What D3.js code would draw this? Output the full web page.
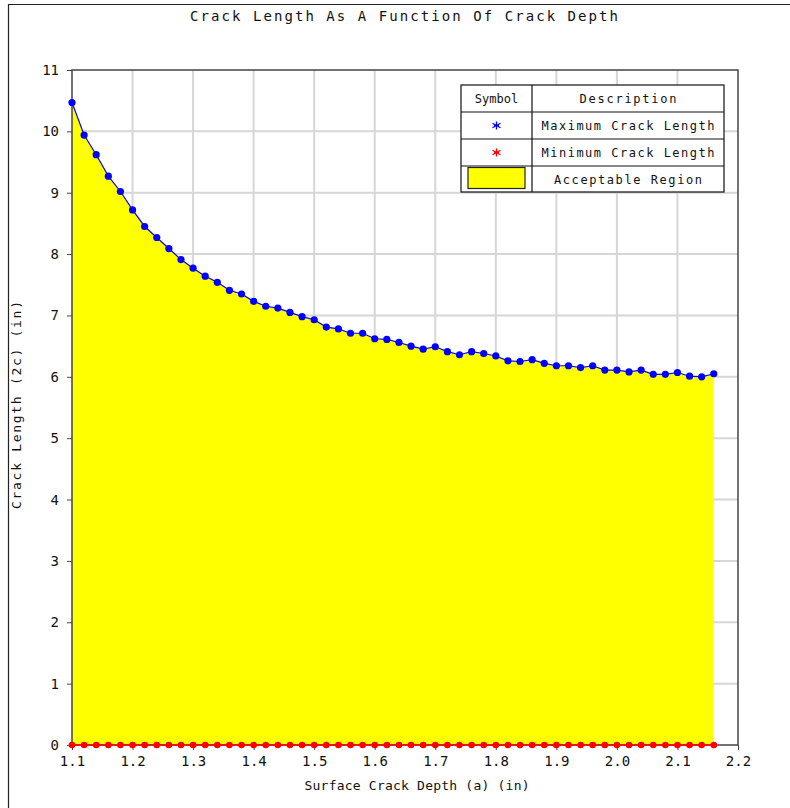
<!DOCTYPE html>
<html>
<head>
<meta charset="utf-8">
<script src="https://cdn.jsdelivr.net/npm/d3@7"></script>
<style>
  body { margin: 0; background: #fff; }
  text { font-family: "DejaVu Sans Mono", monospace; fill: #111; }
</style>
</head>
<body>
<div id="chart"></div>
<script>
// crack depth (a), in
const depth = [1.10, 1.12, 1.14, 1.16, 1.18, 1.20, 1.22, 1.24, 1.26, 1.28,
  1.30, 1.32, 1.34, 1.36, 1.38, 1.40, 1.42, 1.44, 1.46, 1.48,
  1.50, 1.52, 1.54, 1.56, 1.58, 1.60, 1.62, 1.64, 1.66, 1.68,
  1.70, 1.72, 1.74, 1.76, 1.78, 1.80, 1.82, 1.84, 1.86, 1.88,
  1.90, 1.92, 1.94, 1.96, 1.98, 2.00, 2.02, 2.04, 2.06, 2.08,
  2.10, 2.12, 2.14, 2.16];

// maximum crack length (2c), in
const maxLength = [10.47, 9.94, 9.62, 9.27, 9.02, 8.72, 8.45, 8.27, 8.09, 7.91,
  7.77, 7.64, 7.54, 7.41, 7.35, 7.23, 7.15, 7.12, 7.05, 6.98,
  6.93, 6.81, 6.78, 6.71, 6.71, 6.62, 6.61, 6.56, 6.50, 6.45,
  6.49, 6.41, 6.36, 6.41, 6.38, 6.34, 6.26, 6.25, 6.28, 6.22,
  6.18, 6.18, 6.15, 6.18, 6.11, 6.11, 6.08, 6.11, 6.04, 6.04,
  6.07, 6.01, 6.00, 6.05];

// minimum crack length (2c), in
const minLength = [0, 0, 0, 0, 0, 0, 0, 0, 0, 0,
  0, 0, 0, 0, 0, 0, 0, 0, 0, 0,
  0, 0, 0, 0, 0, 0, 0, 0, 0, 0,
  0, 0, 0, 0, 0, 0, 0, 0, 0, 0,
  0, 0, 0, 0, 0, 0, 0, 0, 0, 0,
  0, 0, 0, 0];

const xTicks = [1.1, 1.2, 1.3, 1.4, 1.5, 1.6, 1.7, 1.8, 1.9, 2.0, 2.1, 2.2];
const yTicks = [0, 1, 2, 3, 4, 5, 6, 7, 8, 9, 10, 11];

const legendRows = ["Maximum Crack Length", "Minimum Crack Length", "Acceptable Region"];

const width = 790, height = 808;
const margin = { top: 70, right: 52, bottom: 63, left: 72 };

const svg = d3.select("#chart")
  .append("svg")
  .attr("width", width)
  .attr("height", height);

// outer frame (left and top edges only show)
svg.append("path")
  .attr("d", "M8.5,808 L8.5,4.5 L790,4.5")
  .attr("fill", "none")
  .attr("stroke", "#222")
  .attr("stroke-width", 1.2);

const x = d3.scaleLinear()
  .domain([1.1, 2.2])
  .range([margin.left, width - margin.right]);

const y = d3.scaleLinear()
  .domain([0, 11])
  .range([height - margin.bottom, margin.top]);

const rows = depth.map((d, i) => ({ a: d, max: maxLength[i], min: minLength[i] }));

// grid
svg.append("g")
  .selectAll("line")
  .data(xTicks.slice(1, -1))
  .join("line")
  .attr("x1", d => x(d)).attr("x2", d => x(d))
  .attr("y1", y(0)).attr("y2", y(11))
  .attr("stroke", "#d6d6d6")
  .attr("stroke-width", 2);

svg.append("g")
  .selectAll("line")
  .data(yTicks.slice(1, -1))
  .join("line")
  .attr("x1", x(1.1)).attr("x2", x(2.2))
  .attr("y1", d => y(d)).attr("y2", d => y(d))
  .attr("stroke", "#d6d6d6")
  .attr("stroke-width", 2);

// acceptable region
const area = d3.area()
  .x(d => x(d.a))
  .y0(d => y(d.min))
  .y1(d => y(d.max));

svg.append("path")
  .datum(rows)
  .attr("d", area)
  .attr("fill", "#ffff00");

// plot frame
svg.append("rect")
  .attr("x", x(1.1))
  .attr("y", y(11))
  .attr("width", x(2.2) - x(1.1))
  .attr("height", y(0) - y(11))
  .attr("fill", "none")
  .attr("stroke", "#444")
  .attr("stroke-width", 1.5);

// axes
const xAxis = svg.append("g")
  .attr("transform", `translate(0,${y(0)})`)
  .call(d3.axisBottom(x).tickValues(xTicks).tickFormat(d3.format(".1f")).tickSize(5));
xAxis.select(".domain").remove();
xAxis.selectAll("line").attr("stroke", "#444");
xAxis.selectAll("text")
  .attr("font-size", 14)
  .attr("dy", "0.95em")
  .style("font-family", "DejaVu Sans Mono, monospace");

const yAxis = svg.append("g")
  .attr("transform", `translate(${x(1.1)},0)`)
  .call(d3.axisLeft(y).tickValues(yTicks).tickSize(5).tickPadding(8));
yAxis.select(".domain").remove();
yAxis.selectAll("line").attr("stroke", "#444");
yAxis.selectAll("text")
  .attr("font-size", 14)
  .style("font-family", "DejaVu Sans Mono, monospace");

// series lines
const lineMax = d3.line().x(d => x(d.a)).y(d => y(d.max));
const lineMin = d3.line().x(d => x(d.a)).y(d => y(d.min));

svg.append("path").datum(rows).attr("d", lineMin)
  .attr("fill", "none").attr("stroke", "#ff0000").attr("stroke-width", 1.5);
svg.append("path").datum(rows).attr("d", lineMax)
  .attr("fill", "none").attr("stroke", "#0000ff").attr("stroke-width", 1.2);

svg.append("g")
  .selectAll("circle")
  .data(rows)
  .join("circle")
  .attr("cx", d => x(d.a))
  .attr("cy", d => y(d.min))
  .attr("r", 3.3)
  .attr("fill", "#ff0000");

svg.append("g")
  .selectAll("circle")
  .data(rows)
  .join("circle")
  .attr("cx", d => x(d.a))
  .attr("cy", d => y(d.max))
  .attr("r", 3.6)
  .attr("fill", "#0000ff");

// titles
svg.append("text")
  .attr("x", 404).attr("y", 21)
  .attr("text-anchor", "middle")
  .attr("font-size", 14)
  .attr("textLength", 428)
  .attr("lengthAdjust", "spacing")
  .text("Crack Length As A Function Of Crack Depth");

svg.append("text")
  .attr("x", 417).attr("y", 790)
  .attr("text-anchor", "middle")
  .attr("font-size", 13)
  .attr("textLength", 225)
  .attr("lengthAdjust", "spacing")
  .text("Surface Crack Depth (a)  (in)");

svg.append("text")
  .attr("transform", "translate(21,405) rotate(-90)")
  .attr("text-anchor", "middle")
  .attr("font-size", 13)
  .attr("textLength", 208)
  .attr("lengthAdjust", "spacing")
  .text("Crack Length (2c)  (in)");

// legend table
const lg = svg.append("g");
const lx0 = 461, lx1 = 532, lx2 = 724;
const ly = [85, 112, 139, 166, 192];

lg.append("rect")
  .attr("x", lx0).attr("y", ly[0])
  .attr("width", lx2 - lx0).attr("height", ly[4] - ly[0])
  .attr("fill", "#fff").attr("stroke", "#111").attr("stroke-width", 1.2);
lg.append("line")
  .attr("x1", lx1).attr("x2", lx1).attr("y1", ly[0]).attr("y2", ly[4])
  .attr("stroke", "#111").attr("stroke-width", 1.2);
lg.selectAll(".rowline")
  .data(ly.slice(1, 4))
  .join("line")
  .attr("x1", lx0).attr("x2", lx2)
  .attr("y1", d => d).attr("y2", d => d)
  .attr("stroke", "#111").attr("stroke-width", 1.2);

lg.append("text")
  .attr("x", (lx0 + lx1) / 2).attr("y", ly[0] + 18)
  .attr("text-anchor", "middle").attr("font-size", 12)
  .text("Symbol");
lg.append("text")
  .attr("x", (lx1 + lx2) / 2).attr("y", ly[0] + 18)
  .attr("text-anchor", "middle").attr("font-size", 12)
  .attr("textLength", 97).attr("lengthAdjust", "spacing")
  .text("Description");

lg.selectAll(".desc")
  .data(legendRows)
  .join("text")
  .attr("x", (lx1 + lx2) / 2)
  .attr("y", (d, i) => ly[i + 1] + 18)
  .attr("text-anchor", "middle").attr("font-size", 12)
  .attr("textLength", (d, i) => i < 2 ? 173 : 148)
  .attr("lengthAdjust", "spacing")
  .text(d => d);

// asterisk symbols
function star(cx, cy, color) {
  const r = 4;
  const g = lg.append("g").attr("stroke", color).attr("stroke-width", 1.3);
  g.append("line").attr("x1", cx).attr("x2", cx).attr("y1", cy - r).attr("y2", cy + r);
  g.append("line").attr("x1", cx - r).attr("x2", cx + r).attr("y1", cy - r * 0.55).attr("y2", cy + r * 0.55);
  g.append("line").attr("x1", cx - r).attr("x2", cx + r).attr("y1", cy + r * 0.55).attr("y2", cy - r * 0.55);
  g.append("line").attr("x1", cx - r * 0.6).attr("x2", cx + r * 0.6).attr("y1", cy).attr("y2", cy);
}
star((lx0 + lx1) / 2, (ly[1] + ly[2]) / 2, "#0000ff");
star((lx0 + lx1) / 2, (ly[2] + ly[3]) / 2, "#ff0000");

lg.append("rect")
  .attr("x", 468).attr("y", 167.5)
  .attr("width", 57).attr("height", 21)
  .attr("fill", "#ffff00").attr("stroke", "#222").attr("stroke-width", 1.2);
</script>
</body>
</html>
